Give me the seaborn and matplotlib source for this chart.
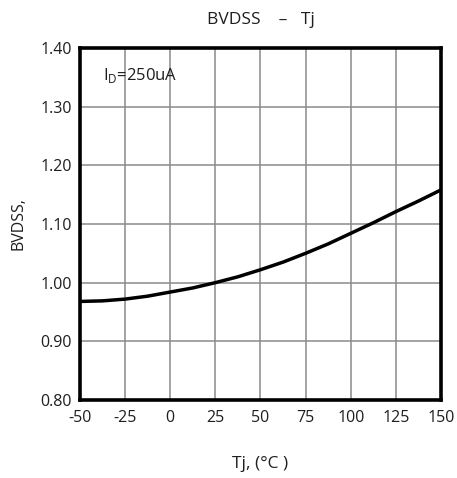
import numpy as np
import pandas as pd
import matplotlib
matplotlib.use("Agg")
import matplotlib.pyplot as plt
import seaborn as sns

# BVDSS normalised vs junction temperature
tj = [-50, -37.5, -25, -12.5, 0, 12.5, 25, 37.5, 50, 62.5, 75, 87.5, 100, 112.5, 125, 137.5, 150]
bvdss = [0.968, 0.969, 0.972, 0.977, 0.984, 0.991, 1.000, 1.010, 1.022, 1.035, 1.050, 1.066,
         1.084, 1.102, 1.121, 1.139, 1.158]
x_ticks = [-50, -25, 0, 25, 50, 75, 100, 125, 150]
y_ticks = [0.80, 0.90, 1.00, 1.10, 1.20, 1.30, 1.40]

df = pd.DataFrame({"Tj": tj, "BVDSS": bvdss})

sns.set_style("whitegrid")
plt.rcParams['font.family'] = ['Open Sans', 'DejaVu Sans']

fig = plt.figure(figsize=(4.57, 4.78), dpi=100)
ax = fig.add_axes([0.175, 0.163, 0.79, 0.737])

sns.lineplot(data=df, x="Tj", y="BVDSS", color="black", linewidth=2.5, ax=ax)

ax.set_xlim(-50, 150)
ax.set_ylim(0.80, 1.40)
ax.set_xticks(x_ticks)
ax.set_xticklabels([str(v) for v in x_ticks])
ax.set_yticks(y_ticks)
ax.set_yticklabels(["%.2f" % v for v in y_ticks])
ax.tick_params(length=0, labelsize=11.5, colors="#1e1e1e")
ax.tick_params(axis="x", pad=7)
ax.tick_params(axis="y", pad=6)

ax.grid(True, color="#8a8a8a", linewidth=1.1)
for s in ax.spines.values():
    s.set_visible(True)
    s.set_color("black")
    s.set_linewidth(2.6)

ax.set_xlabel("Tj, (°C )", fontsize=12.5, labelpad=22, color="#1e1e1e")
ax.set_ylabel("BVDSS,", fontsize=11.5, labelpad=10, color="#1e1e1e")
ax.set_title("BVDSS    –   Tj", fontsize=12.5, pad=17, color="#1e1e1e")

ax.text(-37, 1.353, r"I$_\mathregular{D}$=250uA", fontsize=12, color="#1e1e1e",
        va="center", ha="left")

fig.savefig("out.png", dpi=100)
